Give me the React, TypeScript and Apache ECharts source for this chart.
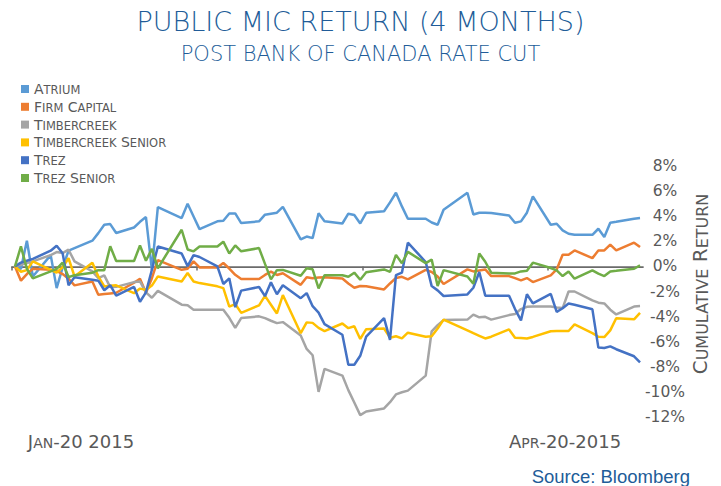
import React, { useEffect, useRef } from "react";
import * as echarts from "echarts";

// Trading days shown (Jan-20-2015 .. May-05-2015)
const dates = [
  "2015-01-20", "2015-01-21", "2015-01-22", "2015-01-23", "2015-01-26", "2015-01-27", "2015-01-28", "2015-01-29", "2015-01-30",
  "2015-02-02", "2015-02-03", "2015-02-04", "2015-02-05", "2015-02-06", "2015-02-09", "2015-02-10", "2015-02-11", "2015-02-12", "2015-02-13",
  "2015-02-17", "2015-02-18", "2015-02-19", "2015-02-20", "2015-02-23", "2015-02-24", "2015-02-25", "2015-02-26", "2015-02-27",
  "2015-03-02", "2015-03-03", "2015-03-04", "2015-03-05", "2015-03-06", "2015-03-09", "2015-03-10", "2015-03-11", "2015-03-12", "2015-03-13",
  "2015-03-16", "2015-03-17", "2015-03-18", "2015-03-19", "2015-03-20", "2015-03-23", "2015-03-24", "2015-03-25", "2015-03-26", "2015-03-27",
  "2015-03-30", "2015-03-31",
  "2015-04-01", "2015-04-02", "2015-04-06", "2015-04-07", "2015-04-08", "2015-04-09", "2015-04-10", "2015-04-13", "2015-04-14", "2015-04-15",
  "2015-04-16", "2015-04-17", "2015-04-20", "2015-04-21", "2015-04-22", "2015-04-23", "2015-04-24", "2015-04-27", "2015-04-28", "2015-04-29",
  "2015-04-30",
  "2015-05-01", "2015-05-04", "2015-05-05",
];

const atrium = [
  0, -0.2, 2.05, -0.8, 0.9, -1.73, -0.1, 1.25, 1.45,
  2.05, 2.65, 3.32, 3.37, 2.66, 3.1, 3.55, 3.93, -0.27, 4.73, 3.85, 4.99, 3.98, 2.97, 3.59, 3.64, 4.22, 4.22, 3.45,
  3.59, 4.12, 4.2, 4.28, 4.75, 2.15, 2.38, 2.25, 4.23, 3.59, 3.42, 4.2, 4.1, 3.42, 4.27, 4.4, 5.1, 5.87, 4.78, 3.8, 3.8, 3.5,
  3.32, 4.52, 5.87, 4.14, 4.28, 4.28, 4.25, 4.06, 3.48, 3.59, 4.28, 5.58, 3.32, 3.4, 2.87, 2.6, 2.52, 2.52, 3.0, 2.34, 3.48,
  3.55, 3.8, 3.85,
];

const firmCapital = [
  0, -1.14, -0.61, -0.19, -0.27, -0.35, -0.61, -0.98, -1.51,
  -1.2, -2.26, -2.2, -2.15, -2.1, -1.3, -0.98, -2.1, -0.94, 0.5, -0.27, -0.19, 0.4, -0.08, -0.08, 0.27, -0.17, -0.67, -1.01,
  -1.01, -0.68, -0.41, -0.68, -0.54, -1.47, -0.86, -0.94, -0.89, -0.86, -0.97, -1.36, -1.7, -1.56, -1.58, -1.84, -1.36, -0.92, -0.83, -1.04, -0.28, -0.45,
  -0.8, -1.4, -0.24, -0.4, -0.32, -0.24, -0.77, -0.77, -0.93, -1.12, -0.93, -1.25, -0.72, -0.24, 0.93, 0.93, 1.27, 0.66, 1.27, 1.27, 1.73,
  1.27, 1.89, 1.54,
];

const timbercreek = [
  0, 0.13, 0.27, 0.4, 0.9, 1.14, 1.06, 1.33, 0.4,
  -0.4, -0.93, -0.72, -1.65, -1.63, -1.25, -1.2, -2.07, -2.5, -1.95, -3.05, -3.1, -3.45, -3.45, -3.45, -3.45, -4.1, -4.9, -4.12,
  -3.98, -4.12, -4.33, -4.52, -4.44, -5.5, -6.58, -7.08, -10.0, -8.17, -8.7, -9.86, -10.85, -11.85, -11.56, -11.32, -10.82, -10.2, -10.03, -9.9, -8.7, -5.17,
  -4.68, -4.28, -4.24, -3.84, -4.06, -4.02, -4.24, -3.88, -3.8, -3.4, -3.22, -3.2, -3.2, -3.28, -3.32, -2.0, -2.0, -2.71, -2.89, -2.95, -3.45,
  -3.83, -3.2, -3.16,
];

const timbercreekSenior = [
  0, -0.43, -0.3, 0.4, -0.27, -0.5, -0.07, 0.65, -0.8,
  0.29, -0.8, -1.6, -1.55, -1.51, -2.13, -1.77, -1.87, -1.53, -0.8, -1.2, -0.53, -1.2, -1.33, -1.59, -1.73, -3.2, -3.0, -3.7,
  -3.1, -2.35, -3.05, -3.75, -2.28, -5.32, -4.46, -4.5, -4.9, -5.15, -4.55, -4.92, -4.77, -5.78, -5.0, -4.95, -5.68, -5.57, -5.73, -5.28, -5.61, -5.57,
  -4.95, -4.24, -5.1, -5.32, -5.53, -5.74, -5.6, -5.02, -5.68, -5.71, -5.74, -5.62, -5.17, -5.15, -5.15, -5.15, -4.62, -5.32, -5.61, -5.63, -5.1,
  -4.13, -4.22, -3.7,
];

const trez = [
  0, 0.3, 0.45, 0.6, 1.25, 1.65, 1.05, -1.5, -0.87,
  -1.07, -1.14, -1.9, -1.5, -2.33, -1.64, -2.82, -2.07, -0.27, 1.58, 1.03, 0.02, 0.9, 0.75, 0, -1.4, -0.95, -3.25, -1.93,
  -1.64, -2.37, -1.27, -2.22, -1.5, -2.53, -2.13, -3.17, -3.68, -4.6, -5.45, -7.84, -7.84, -7.12, -5.6, -4.12, -5.85, -0.7, -0.5, 1.89, 0.35, -1.57,
  -1.91, -2.36, -2.23, -1.7, -0.45, -2.33, -2.33, -2.33, -3.4, -4.3, -2.22, -2.95, -2.19, -3.62, -3.33, -2.95, -3.05, -3.42, -6.47, -6.5, -6.37,
  -6.6, -7.16, -7.64,
];

const trezSenior = [
  0, 1.6, -0.2, -0.95, -0.4, -0.2, 0.3, -0.85, -0.7,
  -0.5, -0.3, -0.3, 1.6, 0.43, 0.43, 1.66, 0.45, 1.4, -0.15, 2.92, 1.35, 1.2, 1.58, 1.58, 1.97, 1.03, 1.67, 1.2,
  1.46, 0.2, -1.03, -0.3, -0.28, -0.74, -0.15, -0.23, -1.76, -0.7, -0.7, -0.83, -0.5, -1.06, -0.47, -0.24, -0.43, 0.92, 0.25, 1.16, 0.26, 0.54,
  -1.56, -0.3, -0.8, -1.38, 1.03, 0.37, -0.5, -0.56, -0.56, -0.4, -0.34, 0.3, -0.13, -0.32, -0.77, -0.4, -0.98, -0.32, -0.58, -0.77, -0.4,
  -0.35, -0.19, 0.08,
];

const seriesNames = ["Atrium", "Firm Capital", "Timbercreek", "Timbercreek Senior", "Trez", "Trez Senior"];
const seriesValues = [atrium, firmCapital, timbercreek, timbercreekSenior, trez, trezSenior];
const seriesColors = ["#5B9BD5", "#ED7D31", "#A5A5A5", "#FFC000", "#4472C4", "#70AD47"];

const monthTicks = ["2015-01-20", "2015-02-20", "2015-03-20", "2015-04-20"];
const axisEnd = "2015-05-06";
const yMin = -12;
const yMax = 8;
const yStep = 2;

const titleText = "PUBLIC MIC RETURN (4 MONTHS)";
const subtitleText = "POST BANK OF CANADA RATE CUT";
const startLabel = "Jan-20 2015";
const endLabel = "Apr-20-2015";
const axisTitle = "Cumulative Return";
const sourceText = "Source: Bloomberg";

const dayOffset = (s: string) => (Date.parse(s) - Date.parse(dates[0])) / 86400000;

// Small-caps emulation through rich text: lowercase letters are drawn as smaller capitals.
function smallCaps(text: string, big = "b", small = "s") {
  let out = "";
  let cur: string | null = null;
  let buf = "";
  for (const ch of text) {
    const isLower = ch !== ch.toUpperCase();
    const st = isLower ? small : big;
    if (st !== cur) {
      if (buf) out += `{${cur}|${buf}}`;
      buf = "";
      cur = st;
    }
    buf += ch.toUpperCase();
  }
  if (buf) out += `{${cur}|${buf}}`;
  return out;
}

const GRAY = "#595959";
const BLUE = "#215c98";
const FONT = "DejaVu Sans";

export default function App() {
  const ref = useRef<HTMLDivElement>(null);

  useEffect(() => {
    if (!ref.current) return;
    const chart = echarts.init(ref.current, undefined, { renderer: "svg" });

    const series = seriesNames.map((name, i) => ({
      name,
      type: "line",
      data: dates.map((d, j) => [dayOffset(d) + 0.5, seriesValues[i][j]]),
      showSymbol: false,
      symbol: "none",
      lineStyle: { width: 2.5, color: seriesColors[i] },
      itemStyle: { color: seriesColors[i] },
      emphasis: { disabled: true },
    }));

    const capRich = (bigSize: number, smallSize: number, color: string) => ({
      b: { fontSize: bigSize, fontFamily: FONT, color, verticalAlign: "bottom" },
      s: { fontSize: smallSize, fontFamily: FONT, color, verticalAlign: "bottom" },
    });

    const option: any = {
      animation: false,
      backgroundColor: "#ffffff",
      title: [
        {
          text: titleText,
          left: "center",
          top: 3,
          textStyle: { fontFamily: FONT, fontSize: 27, fontWeight: 300, color: BLUE },
        },
        {
          text: subtitleText,
          left: "center",
          top: 38,
          textStyle: { fontFamily: FONT, fontSize: 21, fontWeight: 300, color: BLUE },
        },
      ],
      legend: {
        orient: "vertical",
        left: 21,
        top: 82,
        padding: 0,
        itemWidth: 8,
        itemHeight: 8,
        itemGap: 3.8,
        icon: "rect",
        data: seriesNames,
        formatter: (n: string) => smallCaps(n),
        textStyle: { color: GRAY, fontFamily: FONT, rich: capRich(14, 11.5, GRAY) },
      },
      grid: { left: 12, right: 78, top: 166, bottom: 69 },
      xAxis: {
        type: "value",
        min: 0,
        max: dayOffset(axisEnd),
        axisLine: { onZero: true, lineStyle: { color: "#6b6b6b", width: 1.75 } },
        axisTick: {
          show: true,
          customValues: monthTicks.map(dayOffset),
          length: 4,
          lineStyle: { color: "#6b6b6b", width: 1.5 },
        },
        axisLabel: { show: false },
        splitLine: { show: false },
      },
      yAxis: {
        type: "value",
        position: "right",
        min: yMin,
        max: yMax,
        interval: yStep,
        axisLine: { show: false },
        axisTick: { show: false },
        splitLine: { show: false },
        axisLabel: {
          formatter: (v: number) => `${v}%`,
          color: GRAY,
          fontFamily: FONT,
          fontSize: 15.5,
          align: "center",
          margin: 22,
        },
      },
      graphic: [
        {
          type: "text",
          x: 81,
          y: 441,
          style: {
            text: smallCaps(startLabel),
            rich: capRich(18, 14, GRAY),
            fill: GRAY,
            align: "center",
            verticalAlign: "middle",
          },
        },
        {
          type: "text",
          x: 565,
          y: 441,
          style: {
            text: smallCaps(endLabel),
            rich: capRich(18, 14, GRAY),
            fill: GRAY,
            align: "center",
            verticalAlign: "middle",
          },
        },
        {
          type: "text",
          x: 700,
          y: 284,
          rotation: Math.PI / 2,
          style: {
            text: smallCaps(axisTitle),
            rich: capRich(20, 16, GRAY),
            fill: GRAY,
            align: "center",
            verticalAlign: "middle",
          },
        },
        {
          type: "text",
          x: 690,
          y: 476,
          style: {
            text: sourceText,
            fill: BLUE,
            fontFamily: "Liberation Sans",
            fontSize: 18.5,
            align: "right",
            verticalAlign: "middle",
          },
        },
      ],
      series,
    };

    chart.setOption(option);
    return () => chart.dispose();
  }, []);

  return <div ref={ref} style={{ width: 721, height: 486, position: "absolute", left: 0, top: 0 }} />;
}
